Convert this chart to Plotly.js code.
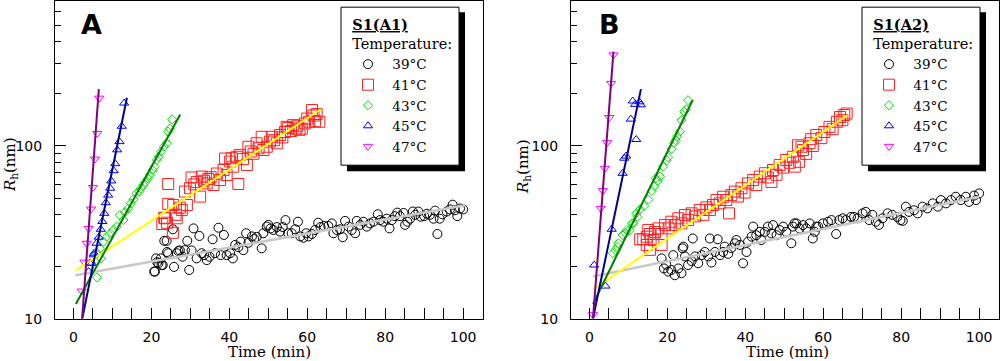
<!DOCTYPE html>
<html>
<head>
<meta charset="utf-8">
<script src="https://cdn.plot.ly/plotly-3.0.1.min.js"></script>
<style>html,body{margin:0;padding:0;background:#fff}#plot{width:1000px;height:361px}</style>
</head>
<body>
<div id="plot"></div>
<script>
// ---------- Panel A : S1(A1) ----------
const a39t = [20.7,20.9,21.2,21.5,21.8,22.4,22.6,22.9,23.3,23.9,24.0,24.3,25.5,25.8,26.5,26.9,27.3,28.0,28.6,29.2,29.7,30.3,30.8,31.6,32.3,32.9,33.5,34.2,34.9,35.7,36.3,37.2,37.8,38.6,39.3,40.2,40.9,41.5,42.3,42.9,43.6,44.3,44.9,45.8,46.4,47.0,48.3,48.7,49.6,50.0,50.6,51.3,52.2,53.0,53.7,54.4,55.1,56.0,56.9,57.6,58.2,59.0,59.7,60.3,61.2,62.0,62.8,63.4,64.3,65.4,66.3,66.7,67.6,68.4,69.1,69.7,70.6,71.4,72.3,72.7,73.6,74.4,75.3,76.1,77.0,78.1,78.7,79.5,80.4,81.1,81.7,82.5,83.1,83.8,84.7,85.1,85.7,86.4,87.1,87.7,88.5,89.1,90.0,90.7,91.5,92.4,92.8,93.4,94.0,94.7,95.8,96.6,97.3,97.9,98.5,99.2,100.0];
const a39r = [18.8,18.8,22.4,21.3,21,22.4,20.5,20.5,28.3,28.3,24.4,24,33,20,24,24.7,24.9,22.9,25,28.3,19.2,24.9,33.4,22.4,30.2,24,23.4,21.9,22.9,28.9,24,33.7,23.4,30.6,23.4,24,22.4,26.8,26,28,25,31.3,27.6,30,29,29.8,25.6,31.3,34.2,35,33.4,32.7,34,32,34,37.3,31.3,31.3,33,36.5,30,29.5,31.3,30,31,32.7,36,34,34.5,34.5,35.7,31.3,32.7,33,29.7,36.9,34.2,32.7,31.3,36.9,35,36.5,34.2,35.7,36.5,40.3,37.3,36.5,38,33.4,37.3,39.3,41.2,39.3,41,35,36.5,38,41.8,40,41.8,39,39.3,40.6,40,38,42.3,31,38,40.3,41.8,43,45.8,42.5,39.3,43.5,43];
const a41t = [22.8,23.3,23.5,24.0,24.3,24.3,25.5,25.6,26.2,26.5,27.3,27.8,28.6,29.1,29.9,30.3,31.0,31.6,32.5,32.9,33.5,34.2,34.6,35.2,35.9,36.8,37.6,38.5,38.9,39.3,40.2,40.6,41.0,41.9,42.3,42.7,43.5,44.5,44.9,45.5,46.2,47.0,47.5,48.3,48.7,49.6,50.4,50.9,51.5,52.2,53.0,53.6,54.3,54.7,55.1,55.8,56.4,57.0,57.4,58.0,58.6,59.4,60.0,60.5,61.2,61.6,62.0,62.4,63.1];
const a41r = [35.4,38.5,38.2,36,60.3,46.3,31.5,45.6,40,38.2,44,42.7,54.5,45.6,57,65.8,60,62,51,66.5,63,60.8,64.4,66,59.5,69.3,63.6,72.7,84.6,68,81.3,85,75.9,86.6,60.3,88.8,84,77.7,99,93,90.2,103.7,97,113,94.8,99,106,113,108,103.7,115.8,112,120.5,129,127,122,132,126,130,124,126,135,144,138,161.5,150,139,153,138];
const a43t = [6.0,6.1,6.8,7.1,7.7,8.5,9.4,10.2,11.1,11.9,12.8,13.2,14.0,14.7,15.4,16.2,16.9,17.3,17.9,18.4,19.1,19.6,20.3,20.8,21.4,21.9,22.5,23.2,23.9,24.3,24.7,25.3];
const a43r = [17.4,24,25.6,22.4,28,29.9,31.3,32.7,34.2,39.9,37.3,41.4,43.6,46.6,49.2,53.3,54.5,57,59.5,62,65,68,72.7,75.9,83,86.6,92.8,99,103.7,121,126,142.6];
const a45t = [3.9,4.2,4.7,5.2,5.3,5.9,6.5,7.0,7.4,7.9,8.3,8.9,9.4,9.7,10.3,10.7,11.2,11.8,12.4,13.0];
const a45r = [18.8,21,21,23.5,24,27.4,29.7,33,36.6,40.8,47,52,57,62.8,72,79,95,106,130,177];
const a47t = [2.1,2.8,3.4,3.9,4.5,5.0,5.5,6.1,6.6];
const a47r = [14.5,21.3,27.4,33.4,43.2,57.6,84,118,189];
// fitted lines (end points)
const aFit39t = [0.5,100.5], aFit39r = [17.9,45.5];
const aFit41t = [0.6,63.5],  aFit41r = [19.1,163];
const aFit43t = [0.6,27.4],  aFit43r = [12.2,152];
const aFit45t = [2.3,13.7],  aFit45r = [10.2,190];
const aFit47t = [2.2,6.5],   aFit47r = [10,213];

// ---------- Panel B : S1(A2) ----------
const b39t = [18.5,19.1,19.7,20.2,21.0,21.5,21.9,22.8,23.6,23.9,24.1,24.5,25.3,26.2,26.5,27.1,27.9,28.8,29.6,30.5,30.9,31.3,32.2,32.9,33.5,34.3,34.7,35.6,36.4,37.3,37.7,38.6,39.4,40.3,40.7,41.6,42.0,42.8,43.7,44.1,45.0,45.8,46.7,47.1,48.0,48.8,49.7,50.5,51.8,52.2,52.6,53.1,53.9,54.8,55.6,56.5,57.3,57.8,58.2,58.7,59.9,61.2,62.1,63.3,64.1,65.0,65.8,67.1,67.9,68.8,70.1,70.9,71.8,72.6,73.5,74.3,75.2,76.5,77.7,79.0,79.8,80.4,81.2,82.0,83.3,84.2,85.5,86.7,88.1,89.4,90.2,91.5,92.8,94.0,95.3,96.6,97.4,98.7,99.2,100.0];
const b39r = [22.4,19.6,20.6,18.8,19.2,23.4,17.9,19.6,18.4,25.6,26.2,23,20.5,21.6,29.2,23,21,23.4,24.4,23,29.2,21.2,24.4,28.9,23.4,24.4,26.2,23.8,25.7,27.4,28.6,26.8,21,24.4,28,29.9,34.2,30.5,31.9,28.6,31.9,34.2,31.2,34.9,30.5,32.7,34.2,31.9,27.4,34.2,35.7,35.7,33.4,34.9,33.4,35.7,29.2,31.9,34.2,34.2,35.7,36.5,37.3,31,37.3,38.2,37.3,38.9,38.9,38.2,40.8,41.6,37.3,40,36.5,35,38.2,40.8,40,38.9,37.3,36.9,44.6,41.6,42.5,40.8,44.6,43.6,46.6,44.6,48.7,46.6,48.7,50.9,48.7,50.9,47.5,51.7,48.7,53.2];
const b41t = [13.0,13.8,14.7,14.7,15.1,15.5,15.5,16.4,16.8,17.7,18.5,18.5,19.4,20.3,21.0,21.9,22.8,23.6,24.5,25.3,26.2,27.1,28.3,29.2,30.0,30.9,31.7,32.6,33.4,34.3,35.1,35.8,36.4,37.3,38.1,39.0,39.8,40.7,42.0,42.8,43.7,45.0,45.8,46.7,47.1,48.0,48.8,49.7,50.5,51.4,52.2,52.7,53.5,53.8,54.4,54.8,55.6,56.5,56.9,57.3,58.2,59.5,60.3,61.6,62.4,63.5,64.3,64.9,65.4,66.0];
const b41r = [28.9,28.9,29.9,26.8,32.7,31,25.1,28.6,31.8,33.4,31,26.8,34.9,33.4,36.5,34.9,38.2,35.7,39.9,37.3,40.8,39.2,42.7,40,44.2,42.7,45.6,48.7,46.6,50.9,48.7,40.8,52,54.5,51,57,53.8,60.8,63.6,59.5,66.5,69.6,65.8,62,72.7,68.2,77.7,75,83,80,86.6,76,101,81,99,94.8,90,103.7,109.5,100,115.8,111,120.5,129,125,138,147,141,151,154];
const b43t = [6.0,6.6,7.2,7.4,8.5,9.2,9.6,10.3,10.9,11.3,12.0,12.3,13.0,14.0,15.1,16.0,16.6,17.0,17.5,18.1,18.9,19.8,20.2,21.1,21.7,22.1,22.5,23.2,23.6,24.3,24.8,25.3];
const b43r = [24,25,26.2,27.4,30.6,31.3,32.7,32.5,35.7,35.7,40.8,39,43,45,49,55,58.5,65,62.8,66.5,76,82.5,86,96,104,108,114,121,141,158,163,184];
const b45t = [1.2,4.1,5.7,8.5,8.9,9.4,10.6,11.1,11.7,12.0,12.8,13.2];
const b45r = [20.5,15.5,33,69.5,85,87.5,143,182,174,109,180,173];
const b47t = [0.9,2.9,3.4,3.95,4.5,5.1,5.55,6.15];
const b47r = [10.6,43.6,55.2,74.3,104.5,146,230,336];
const bFit39t = [0.9,100],  bFit39r = [17.6,50.9];
const bFit41t = [0.9,66.3], bFit41r = [14.8,151];
const bFit43t = [0.9,26.5], bFit43r = [12.2,184.5];
const bFit45t = [0.9,13.2], bFit45r = [10.1,213];
const bFit47t = [0.9,6.15], bFit47r = [10.1,351];

// ---------- labels ----------
const seriesNames = ['39°C','41°C','43°C','45°C','47°C'];
const panelLetters = ['A','B'];
const legendTitles = ['S1(A1)','S1(A2)'];
const xTickVals = [0,20,40,60,80,100];
const yTickVals = [10,100];
const yMinorVals = [20,30,40,50,60,70,80,90,200,300,400,500,600];

// ---------- styles ----------
const symbols = ['circle-open','square-open','diamond-open','triangle-up-open','triangle-down-open'];
const mColors = ['#000000','#ff2020','#00e000','#0000ff','#ff00ff'];
const mSizes  = [9,11,7,8,8];
const fitColors = ['#c8c8c8','#ffff00','#008000','#000090','#800080'];
const fitWidths = [2.5,2,2,2,2];

const panels = [
  {xa:'x', ya:'y', leg:'legend',
   data:[[a39t,a39r],[a41t,a41r],[a43t,a43r],[a45t,a45r],[a47t,a47r]],
   fits:[[aFit39t,aFit39r],[aFit41t,aFit41r],[aFit43t,aFit43r],[aFit45t,aFit45r],[aFit47t,aFit47r]]},
  {xa:'x2', ya:'y2', leg:'legend2',
   data:[[b39t,b39r],[b41t,b41r],[b43t,b43r],[b45t,b45r],[b47t,b47r]],
   fits:[[bFit39t,bFit39r],[bFit41t,bFit41r],[bFit43t,bFit43r],[bFit45t,bFit45r],[bFit47t,bFit47r]]}
];

const traces = [];
panels.forEach(p => {
  p.data.forEach((d,i) => {
    traces.push({type:'scatter', mode:'markers', x:d[0], y:d[1], xaxis:p.xa, yaxis:p.ya,
      legend:p.leg, name:'\u00a0'+seriesNames[i], cliponaxis:true,
      marker:{symbol:symbols[i], size:mSizes[i], color:mColors[i], line:{width:1, color:mColors[i]}}});
  });
  p.fits.forEach((f,i) => {
    traces.push({type:'scatter', mode:'lines', x:f[0], y:f[1], xaxis:p.xa, yaxis:p.ya,
      showlegend:false, hoverinfo:'skip', line:{color:fitColors[i], width:fitWidths[i]}});
  });
});

const tickFont = {family:'DejaVu Sans', size:14, color:'#000'};
function xAxis(domain, anchor){
  return {domain:domain, anchor:anchor, range:[-4.75,105.1], showline:true, mirror:true,
    linecolor:'#000', linewidth:1, ticks:'inside', ticklen:11, tickcolor:'#000', tickwidth:1,
    tickmode:'array', tickvals:xTickVals, showgrid:false, zeroline:false, tickfont:tickFont,
    ticklabelstandoff:5,
    minor:{ticks:'inside', ticklen:11, tickcolor:'#000', tickwidth:1, tickmode:'linear', tick0:0, dtick:5}};
}
function yAxis(anchor){
  return {anchor:anchor, type:'log', range:[1,2.838], showline:true, mirror:true,
    linecolor:'#000', linewidth:1, ticks:'inside', ticklen:11, tickcolor:'#000', tickwidth:1,
    tickmode:'array', tickvals:yTickVals, ticktext:yTickVals.map(String), showgrid:false, zeroline:false,
    tickfont:tickFont, ticklabelstandoff:9,
    minor:{ticks:'inside', ticklen:6, tickcolor:'#000', tickwidth:1, tickmode:'array', tickvals:yMinorVals}};
}
function legendCfg(x, title){
  return {x:x, xanchor:'left', y:0.968, yanchor:'top', bgcolor:'rgba(0,0,0,0)', borderwidth:0,
    font:{family:'DejaVu Serif', size:13.5, color:'#000'}, tracegroupgap:0, indentation:7,
    title:{text:'\u00a0\u00a0<b><u>'+title+'</u></b><br>\u00a0\u00a0Temperature:\u00a0',
           font:{family:'DejaVu Serif', size:14.5, color:'#000'}}};
}
const serif = {family:'DejaVu Serif', size:15, color:'#000'};
const ann = (text, x, y, font, extra) => Object.assign({text:text, x:x, y:y, xref:'paper', yref:'paper',
  xanchor:'center', yanchor:'middle', showarrow:false, font:font}, extra || {});
const letterFont = {family:'DejaVu Sans', size:27, color:'#000'};
const annotations = [
  ann('<b>'+panelLetters[0]+'</b>', 0.091, 0.925, letterFont),
  ann('<b>'+panelLetters[1]+'</b>', 0.609, 0.925, letterFont),
  ann('Time (min)', 0.269, -0.104, serif),
  ann('Time (min)', 0.787, -0.104, serif),
  ann('<i>R</i><sub>h</sub>(nm)', 0.010, 0.484, serif, {textangle:-90}),
  ann('<i>R</i><sub>h</sub>(nm)', 0.524, 0.478, serif, {textangle:-90})
];

const layout = {
  width:1000, height:361, margin:{l:0, r:0, t:1, b:42},
  paper_bgcolor:'#fff', plot_bgcolor:'#fff', showlegend:true, hovermode:false,
  xaxis:xAxis([0.055,0.483],'y'), yaxis:yAxis('x'),
  xaxis2:xAxis([0.571,0.999],'y2'), yaxis2:yAxis('x2'),
  legend:legendCfg(0.341, legendTitles[0]),
  legend2:legendCfg(0.862, legendTitles[1]),
  annotations:annotations
};

Plotly.newPlot('plot', traces, layout, {staticPlot:true}).then(gd => {
  // framed legend box with a drop shadow, sized from the rendered legend
  const root = gd.getBoundingClientRect();
  const shapes = [];
  const toY = py => (319 - py) / 318;
  ['legend','legend2'].forEach(id => {
    const bg = gd.querySelector('g.' + id + ' rect.bg');
    if (!bg) return;
    const b = bg.getBoundingClientRect();
    const L = b.left - root.left, R = b.right - root.left;
    const T = b.top - root.top - 4, B = b.bottom - root.top + 3;
    shapes.push({type:'rect', xref:'paper', yref:'paper', layer:'above',
      x0:(L+6)/1000, x1:(R+6)/1000, y0:toY(B+6), y1:toY(T+5), fillcolor:'#000', line:{width:0}});
    shapes.push({type:'rect', xref:'paper', yref:'paper', layer:'above',
      x0:L/1000, x1:R/1000, y0:toY(B), y1:toY(T), fillcolor:'#fff', line:{width:1, color:'#000'}});
  });
  return Plotly.relayout(gd, {shapes:shapes});
});
</script>
</body>
</html>
